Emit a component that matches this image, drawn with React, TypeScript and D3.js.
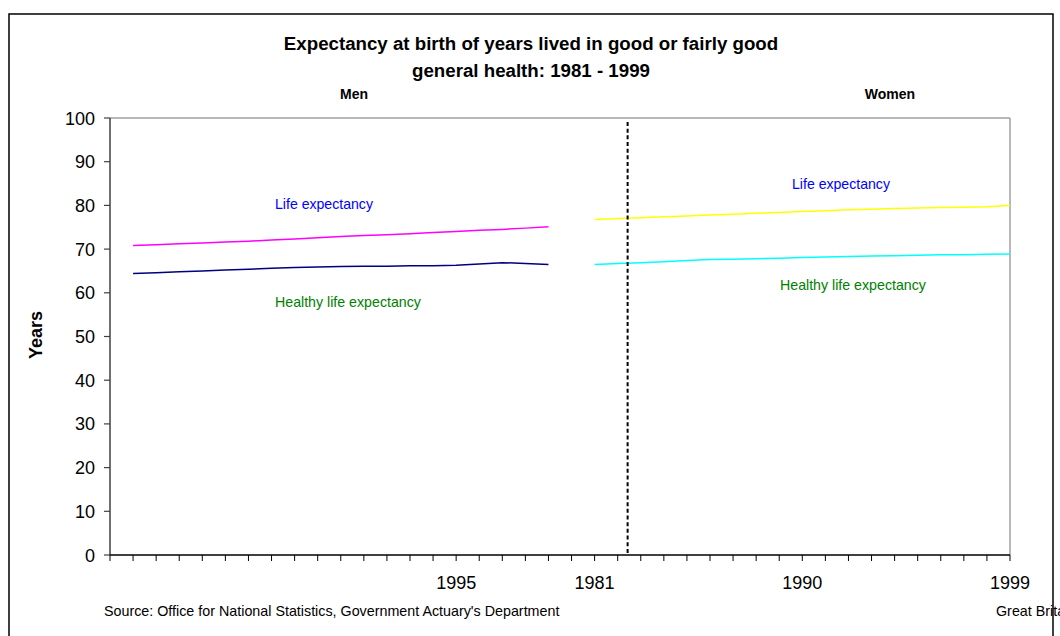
import React from "react";
import * as d3 from "d3";

// ---- Data ----
const menYears = ["1981","1982","1983","1984","1985","1986","1987","1988","1989","1990","1991","1992","1993","1994","1995","1996","1997","1998","1999"];
const womenYears = ["1981","1982","1983","1984","1985","1986","1987","1988","1989","1990","1991","1992","1993","1994","1995","1996","1997","1998","1999"];

const menLifeExpectancy = [70.8,71.0,71.2,71.4,71.6,71.8,72.1,72.3,72.6,72.9,73.1,73.3,73.5,73.8,74.0,74.3,74.5,74.8,75.1];
const menHealthyLifeExpectancy = [64.4,64.6,64.8,65.0,65.2,65.4,65.6,65.8,65.9,66.0,66.1,66.1,66.2,66.2,66.3,66.6,66.9,66.7,66.5];
const womenLifeExpectancy = [76.8,77.0,77.2,77.4,77.6,77.8,78.0,78.2,78.4,78.6,78.8,79.0,79.1,79.3,79.4,79.5,79.6,79.7,80.0];
const womenHealthyLifeExpectancy = [66.5,66.7,66.9,67.1,67.4,67.6,67.7,67.8,67.9,68.1,68.2,68.3,68.4,68.5,68.6,68.7,68.7,68.8,68.9];

const yTicks = [0,10,20,30,40,50,60,70,80,90,100];
// category keys: leading blank, men years, blank gap, women years
const categories = ["blank0", ...menYears.map(y => "M" + y), "blank1", ...womenYears.map(y => "W" + y)];
const shownLabels: Record<string, string> = { M1995: "1995", W1981: "1981", W1990: "1990", W1999: "1999" };
const dividerIndex = 22.43; // position of dashed separator in category units

const W = 1060, H = 636;
const m = { left: 110, right: 1010, top: 118, bottom: 555 };

export default function App() {
  const x = d3.scalePoint<string>().domain(categories).range([m.left, m.right]).padding(0);
  const xi = d3.scaleLinear().domain([0, categories.length - 1]).range([m.left, m.right]);
  const y = d3.scaleLinear().domain([0, 100]).range([m.bottom, m.top]);

  const line = d3.line<[string, number]>().x(d => x(d[0])!).y(d => y(d[1]));
  const menKeys = menYears.map(v => "M" + v);
  const womenKeys = womenYears.map(v => "W" + v);
  const zip = (keys: string[], vals: number[]) => keys.map((k, i) => [k, vals[i]] as [string, number]);

  const series = [
    { d: zip(menKeys, menLifeExpectancy), c: "#FF00FF" },
    { d: zip(menKeys, menHealthyLifeExpectancy), c: "#000080" },
    { d: zip(womenKeys, womenLifeExpectancy), c: "#FFFF00" },
    { d: zip(womenKeys, womenHealthyLifeExpectancy), c: "#00FFFF" },
  ];

  const font = "Arial, 'Liberation Sans', sans-serif";
  const dx = xi(dividerIndex);

  return (
    <svg width={W} height={H} style={{ position: "absolute", left: 0, top: 0, background: "#fff" }} fontFamily={font}>
      <rect x={9} y={14} width={1044} height={700} fill="#fff" stroke="#000" strokeWidth={1.5} />
      <text x={531} y={50} textAnchor="middle" fontSize={18.7} fontWeight="bold">Expectancy at birth of years lived in good or fairly good</text>
      <text x={531} y={77} textAnchor="middle" fontSize={18.7} fontWeight="bold">general health: 1981 - 1999</text>
      <text x={354} y={99} textAnchor="middle" fontSize={14} fontWeight="bold">Men</text>
      <text x={890} y={99} textAnchor="middle" fontSize={14} fontWeight="bold">Women</text>

      {/* plot border */}
      <line x1={m.left} x2={m.right} y1={m.top} y2={m.top} stroke="#a0a0a0" strokeWidth={1.5} />
      <line x1={m.right} x2={m.right} y1={m.top} y2={m.bottom} stroke="#a0a0a0" strokeWidth={1.5} />

      {/* y axis */}
      <line x1={m.left} x2={m.left} y1={m.top} y2={m.bottom} stroke="#404040" strokeWidth={1.5} />
      {yTicks.map(t => (
        <g key={t}>
          <line x1={m.left - 6} x2={m.left} y1={y(t)} y2={y(t)} stroke="#404040" strokeWidth={1.2} />
          <text x={95} y={y(t) + 6.5} textAnchor="end" fontSize={18}>{t}</text>
        </g>
      ))}
      <text transform={`translate(41.5,335) rotate(-90)`} textAnchor="middle" fontSize={18} fontWeight="bold">Years</text>

      {/* x axis */}
      <line x1={m.left} x2={m.right} y1={m.bottom} y2={m.bottom} stroke="#000" strokeWidth={1.5} />
      {categories.map(c => (
        <line key={c} x1={x(c)!} x2={x(c)!} y1={m.bottom} y2={m.bottom + 6} stroke="#000" strokeWidth={1} />
      ))}
      {categories.filter(c => shownLabels[c]).map(c => (
        <text key={"l" + c} x={x(c)!} y={589} textAnchor="middle" fontSize={18}>{shownLabels[c]}</text>
      ))}

      {/* series */}
      {series.map((s, i) => (
        <path key={i} d={line(s.d)!} fill="none" stroke={s.c} strokeWidth={1.5} />
      ))}

      {/* divider */}
      <line x1={dx} x2={dx} y1={122} y2={m.bottom} stroke="#000" strokeWidth={2} strokeDasharray="4,2.67" />

      {/* annotations */}
      <text x={275} y={208.5} fontSize={14.1} fill="#0000FF">Life expectancy</text>
      <text x={275} y={307} fontSize={14.2} fill="#008000">Healthy life expectancy</text>
      <text x={792} y={188.5} fontSize={14.1} fill="#0000FF">Life expectancy</text>
      <text x={780} y={289.5} fontSize={14.2} fill="#008000">Healthy life expectancy</text>

      <text x={104} y={616} fontSize={14.3}>Source: Office for National Statistics, Government Actuary's Department</text>
      <text x={996} y={616} fontSize={14.3}>Great Britain</text>
    </svg>
  );
}
